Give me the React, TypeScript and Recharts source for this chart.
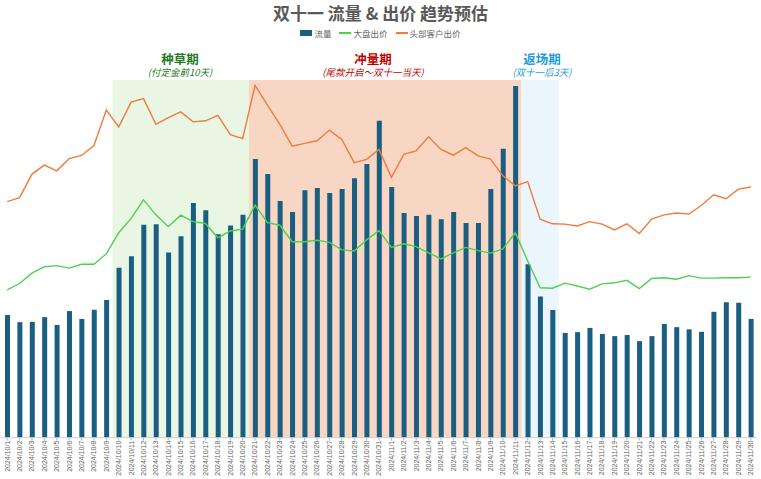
import React from "react";
import { ComposedChart, Bar, Line, XAxis, YAxis, ReferenceArea } from "recharts";

const dates: string[] = [
  "2024/10/1","2024/10/2","2024/10/3","2024/10/4","2024/10/5","2024/10/6","2024/10/7","2024/10/8","2024/10/9","2024/10/10",
  "2024/10/11","2024/10/12","2024/10/13","2024/10/14","2024/10/15","2024/10/16","2024/10/17","2024/10/18","2024/10/19","2024/10/20",
  "2024/10/21","2024/10/22","2024/10/23","2024/10/24","2024/10/25","2024/10/26","2024/10/27","2024/10/28","2024/10/29","2024/10/30",
  "2024/10/31","2024/11/1","2024/11/2","2024/11/3","2024/11/4","2024/11/5","2024/11/6","2024/11/7","2024/11/8","2024/11/9",
  "2024/11/10","2024/11/11","2024/11/12","2024/11/13","2024/11/14","2024/11/15","2024/11/16","2024/11/17","2024/11/18","2024/11/19",
  "2024/11/20","2024/11/21","2024/11/22","2024/11/23","2024/11/24","2024/11/25","2024/11/26","2024/11/27","2024/11/28","2024/11/29",
  "2024/11/30",
];

const traffic: number[] = [
  34.3, 32.3, 32.4, 33.7, 31.5, 35.4, 33.2, 35.8, 38.5, 47.5,
  50.7, 59.5, 59.7, 51.8, 56.3, 65.6, 63.6, 56.9, 59.3, 62.3,
  77.9, 73.7, 66.2, 63.1, 69.2, 69.8, 68.4, 69.5, 72.5, 76.5,
  88.6, 70.1, 62.8, 62.0, 62.3, 61.1, 63.1, 60.0, 60.0, 69.5,
  80.8, 98.3, 48.5, 39.5, 35.7, 29.3, 29.5, 30.7, 29.0, 28.4,
  28.7, 27.0, 28.4, 31.8, 30.9, 30.3, 29.6, 35.2, 37.9, 37.7,
  33.2,
];

const marketBid: number[] = [
  41.3, 43.1, 46.0, 47.8, 48.1, 47.4, 48.5, 48.5, 51.4, 57.3,
  61.3, 66.5, 62.3, 59.0, 62.2, 60.4, 59.9, 55.9, 57.8, 58.3,
  65.0, 60.1, 59.4, 54.8, 54.8, 55.2, 54.6, 52.5, 52.2, 55.3,
  57.9, 53.2, 54.2, 53.4, 51.7, 50.0, 51.7, 53.2, 52.3, 51.6,
  52.8, 57.3, 49.4, 41.9, 41.8, 43.2, 42.4, 41.5, 43.0, 43.3,
  44.0, 41.7, 44.5, 44.7, 44.3, 45.3, 44.6, 44.6, 44.7, 44.7,
  44.9,
];

const topClientBid: number[] = [
  66.0, 67.1, 73.7, 76.2, 74.6, 78.0, 78.9, 81.7, 91.6, 86.9,
  93.8, 94.8, 87.6, 89.5, 91.1, 88.3, 88.6, 90.1, 84.7, 83.6,
  98.5, 93.0, 87.6, 81.5, 82.3, 83.0, 86.0, 83.4, 76.9, 77.8,
  80.6, 72.8, 79.2, 80.2, 84.1, 80.6, 79.0, 81.1, 78.8, 77.9,
  73.2, 70.4, 71.6, 61.1, 59.8, 59.7, 59.2, 60.4, 59.7, 58.1,
  59.8, 57.1, 61.1, 62.3, 62.8, 62.5, 64.9, 67.9, 66.8, 69.5,
  70.1,
];

const periodNames: string[] = ["种草期", "冲量期", "返场期"];
const periodNotes: string[] = ["(付定金前10天)", "(尾款开启～双十一当天)", "(双十一后3天)"];
const periodStart: string[] = ["2024/10/10", "2024/10/21", "2024/11/12"];
const periodEnd: string[] = ["2024/10/20", "2024/11/11", "2024/11/14"];

const periodFills = ["#e9f6e3", "#f8d6c4", "#ebf5fc"];
const periodColors = ["#1f7a1f", "#c00000", "#1f9bd6"];
const periodLabelX = [180, 373, 542];

const data = dates.map((d, i) => ({
  date: d,
  traffic: traffic[i],
  market: marketBid[i],
  top: topClientBid[i],
}));

const FONT = '"Noto Sans CJK SC", "Noto Sans", sans-serif';

const DateTick = (props: any) => {
  const { x, y, payload } = props;
  return (
    <text
      x={0}
      y={0}
      transform={`translate(${x + 2.4},${y - 2}) rotate(-90)`}
      textAnchor="end"
      fontSize={7}
      fill="#666"
      fontFamily='"Liberation Sans", Arial, sans-serif'
    >
      {payload.value}
    </text>
  );
};

export default function App() {
  return (
    <div style={{ position: "fixed", left: 0, top: 0, width: 761, height: 479, background: "#fff", fontFamily: FONT }}>
      <div style={{ position: "absolute", left: 0, width: 761, top: 1, textAlign: "center", fontSize: 17, fontWeight: 700, color: "#595959", lineHeight: "24px" }}>
        双十一 流量 &amp; 出价 趋势预估
      </div>
      <div style={{ position: "absolute", left: 0, width: 761, top: 26, display: "flex", justifyContent: "center", alignItems: "center", fontSize: 8.5, color: "#666", lineHeight: "14px" }}>
        <span style={{ display: "inline-block", width: 12, height: 6, background: "#1a5e82", marginRight: 2 }} />
        <span style={{ marginRight: 8 }}>流量</span>
        <span style={{ display: "inline-block", width: 12, height: 2, background: "#4fd04f", marginRight: 2 }} />
        <span style={{ marginRight: 8 }}>大盘出价</span>
        <span style={{ display: "inline-block", width: 12, height: 2, background: "#f07b3c", marginRight: 2 }} />
        <span>头部客户出价</span>
      </div>
      {periodNames.map((n, i) => (
        <React.Fragment key={n}>
          <div style={{ position: "absolute", left: periodLabelX[i] - 80, width: 160, top: 51, textAlign: "center", color: periodColors[i], fontSize: 12.5, fontWeight: 700, lineHeight: "15px", height: 15 }}>
            {n}
          </div>
          <div style={{ position: "absolute", left: periodLabelX[i] - 80, width: 160, top: 66.5, textAlign: "center", color: periodColors[i], fontSize: 9.5, fontStyle: "italic", lineHeight: "11px", height: 11 }}>
            {periodNotes[i]}
          </div>
        </React.Fragment>
      ))}
      <div style={{ position: "absolute", left: 0, top: 0 }}>
        <ComposedChart width={761} height={479} data={data} margin={{ top: 80, right: 4, bottom: 0, left: 1 }} barCategoryGap={0}>
          {periodNames.map((n, i) => (
            <ReferenceArea key={n} x1={periodStart[i]} x2={periodEnd[i]} yAxisId="flow" fill={periodFills[i]} fillOpacity={1} stroke="none" ifOverflow="extendDomain" />
          ))}
          <XAxis
            dataKey="date"
            interval={0}
            height={41.3}
            tick={<DateTick />}
            tickLine={{ stroke: "#bbb" }}
            tickSize={3}
            axisLine={{ stroke: "#d0d0d0" }}
          />
          <YAxis yAxisId="flow" hide domain={[0, 100]} />
          <YAxis yAxisId="price" hide domain={[0, 100]} orientation="right" />
          <Bar yAxisId="flow" dataKey="traffic" barSize={5} fill="#1a5e82" isAnimationActive={false} />
          <Line yAxisId="price" dataKey="market" type="linear" stroke="#4fd04f" strokeWidth={1.4} dot={false} isAnimationActive={false} />
          <Line yAxisId="price" dataKey="top" type="linear" stroke="#f07b3c" strokeWidth={1.4} dot={false} isAnimationActive={false} />
        </ComposedChart>
      </div>
    </div>
  );
}
